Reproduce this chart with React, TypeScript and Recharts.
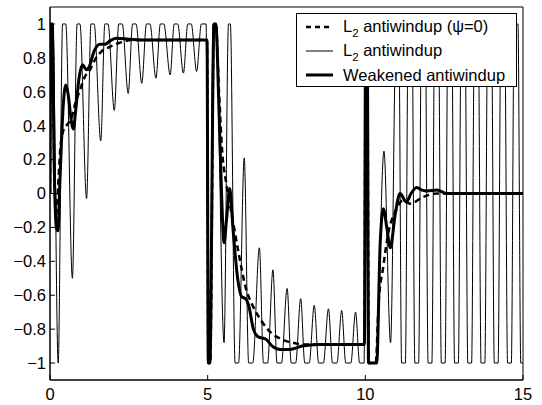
import { LineChart, Line, XAxis, YAxis, Legend, ReferenceArea } from "recharts";

type Pt = [number, number];

const xTicks = [0, 5, 10, 15];
const yTicks = [-1, -0.8, -0.6, -0.4, -0.2, 0, 0.2, 0.4, 0.6, 0.8, 1];

// L2 antiwindup (psi = 0), dashed
const l2Psi0: Pt[] = [
  [0, 0], [0.03, 1], [0.07, 1], [0.13, 0.2], [0.2, -0.12], [0.26, 0.05], [0.32, 0.25],
  [0.42, 0.37], [0.56, 0.41], [0.69, 0.45], [0.8, 0.53], [0.95, 0.61], [1.11, 0.69],
  [1.27, 0.73], [1.43, 0.79], [1.59, 0.83], [1.72, 0.85], [1.9, 0.865], [2.06, 0.88],
  [2.22, 0.89], [2.4, 0.9], [2.65, 0.905], [4.98, 0.905], [5.02, -1], [5.08, -1],
  [5.2, 1], [5.26, 1], [5.36, 0.6], [5.46, 0.25], [5.6, 0.05], [5.78, -0.14],
  [5.97, -0.34], [6.2, -0.55], [6.45, -0.67], [6.7, -0.75], [7.0, -0.82], [7.35, -0.86],
  [7.7, -0.88], [8.1, -0.89], [9.97, -0.89], [10.01, 1], [10.06, 1], [10.11, -1],
  [10.33, -1], [10.42, -0.65], [10.57, -0.43], [10.73, -0.23], [10.94, -0.11],
  [11.2, -0.04], [11.42, -0.06], [11.84, -0.02], [12.27, 0], [15, 0],
];

// L2 antiwindup, thin
const l2Plain: Pt[] = [
  [0, 0], [0.03, 1], [0.09, 1], [0.26, -1], [0.4, 1], [0.5, 1], [0.71, -0.5],
  [0.86, 1], [0.95, 1], [1.16, -0.03], [1.3, 1], [1.4, 1], [1.61, 0.31],
  [1.74, 1], [1.84, 1], [2.04, 0.49], [2.18, 1], [2.29, 1], [2.48, 0.59],
  [2.62, 1], [2.73, 1], [2.91, 0.65], [3.06, 1], [3.17, 1], [3.36, 0.68],
  [3.5, 1], [3.61, 1], [3.81, 0.7], [3.94, 1], [4.05, 1], [4.23, 0.71],
  [4.37, 1], [4.48, 1], [4.65, 0.72], [4.8, 1], [4.95, 1], [5.02, -1], [5.08, -1],
  [5.17, 1], [5.26, 1], [5.52, -0.88], [5.66, 1], [5.72, 1], [5.87, -1], [5.98, -1],
  [6.16, 0.21], [6.3, -1], [6.43, -1], [6.64, -0.32], [6.77, -1], [6.9, -1],
  [7.07, -0.45], [7.2, -1], [7.34, -1], [7.52, -0.56], [7.65, -1], [7.79, -1],
  [7.95, -0.62], [8.08, -1], [8.22, -1], [8.38, -0.66], [8.52, -1], [8.67, -1],
  [8.83, -0.68], [8.96, -1], [9.1, -1], [9.25, -0.69], [9.38, -1], [9.54, -1],
  [9.69, -0.7], [9.82, -1], [9.96, -1], [10.02, 1], [10.07, 1], [10.12, -1],
  [10.34, -1], [10.59, 0.25], [10.8, -0.88], [10.98, 1], [11.06, 1],
  [11.15, -1], [11.27, -1], [11.36, 1], [11.48, 1],
  [11.57, -1], [11.69, -1], [11.78, 1], [11.9, 1],
  [11.99, -1], [12.11, -1], [12.2, 1], [12.32, 1],
  [12.41, -1], [12.53, -1], [12.62, 1], [12.74, 1],
  [12.83, -1], [12.95, -1], [13.04, 1], [13.16, 1],
  [13.25, -1], [13.37, -1], [13.46, 1], [13.58, 1],
  [13.67, -1], [13.79, -1], [13.88, 1], [14.0, 1],
  [14.09, -1], [14.21, -1], [14.3, 1], [14.42, 1],
  [14.51, -1], [14.63, -1], [14.72, 1], [14.84, 1],
  [14.93, -1], [15, -1],
];

// Weakened antiwindup, thick
const weakened: Pt[] = [
  [0, 0], [0.03, 1], [0.07, 1], [0.14, 0.1], [0.2, -0.2], [0.25, -0.22], [0.32, 0.1],
  [0.42, 0.52], [0.5, 0.64], [0.58, 0.58], [0.66, 0.45], [0.74, 0.38], [0.82, 0.5],
  [0.92, 0.68], [1.03, 0.76], [1.15, 0.73], [1.25, 0.75], [1.4, 0.84], [1.59, 0.88],
  [1.75, 0.88], [1.9, 0.9], [2.1, 0.915], [2.5, 0.91], [3.0, 0.905], [4.98, 0.905],
  [5.02, -1], [5.07, -1], [5.2, 1], [5.26, 1], [5.35, 0.55], [5.44, 0], [5.52, -0.29],
  [5.6, -0.15], [5.7, 0.03], [5.8, -0.2], [5.95, -0.5], [6.08, -0.61], [6.2, -0.62],
  [6.3, -0.66], [6.45, -0.8], [6.6, -0.845], [6.85, -0.86], [7.05, -0.9], [7.3, -0.92],
  [7.6, -0.92], [8.0, -0.9], [8.5, -0.89], [9.97, -0.89], [10.01, 1], [10.06, 1],
  [10.1, -1], [10.36, -1], [10.47, -0.3], [10.57, -0.09], [10.68, -0.2], [10.79, -0.32],
  [10.95, -0.12], [11.1, 0], [11.3, -0.05], [11.45, 0], [11.63, 0.035], [11.8, 0.02],
  [11.95, 0.015], [12.27, 0.02], [12.6, 0], [15, 0],
];

const toRows = (pts: Pt[]) => pts.map(([t, v]) => ({ t, v }));

const font = "'Liberation Sans', Arial, Helvetica, sans-serif";
const fs = 16.5;

const fmt = (v: number) => (v < 0 ? "\u2212" + String(Math.abs(v)) : String(v));

const legendRows = [
  { sub: true, text: " antiwindup (\u03c8=0)", width: 2.5, dash: "5 4" },
  { sub: true, text: " antiwindup", width: 1, dash: undefined },
  { sub: false, text: "Weakened antiwindup", width: 3, dash: undefined },
];

function LegendBox() {
  return (
    <div
      style={{
        width: 221,
        height: 74,
        border: "1px solid #000",
        background: "#fff",
        boxSizing: "border-box",
        paddingTop: 1,
        fontFamily: font,
        fontSize: fs,
        color: "#000",
      }}
    >
      {legendRows.map((r, i) => (
        <div key={i} style={{ height: 24, display: "flex", alignItems: "center" }}>
          <svg width={46} height={24} style={{ flex: "none" }}>
            <line x1={9} x2={36} y1={12} y2={12} stroke="#000" strokeWidth={r.width} strokeDasharray={r.dash} />
          </svg>
          <span style={{ whiteSpace: "nowrap", lineHeight: "24px" }}>
            {r.sub ? (
              <>
                L<span style={{ fontSize: 11.5, position: "relative", top: 5 }}>2</span>
              </>
            ) : null}
            {r.text}
          </span>
        </div>
      ))}
    </div>
  );
}

export default function App() {
  const tickStyle = { fill: "#000", fontSize: fs, fontFamily: font };
  return (
    <div style={{ position: "absolute", left: 0, top: 0, width: 542, height: 405, background: "#fff", fontFamily: font }}>
      <LineChart width={542} height={405} margin={{ top: 7, right: 19, left: 0, bottom: 0 }}>
        <XAxis
          xAxisId="b"
          type="number"
          dataKey="t"
          domain={[0, 15]}
          ticks={xTicks}
          interval={0}
          allowDataOverflow
          height={25}
          tickSize={-5}
          tickMargin={13}
          stroke="#000"
          tick={tickStyle}
        />
        <XAxis
          xAxisId="top"
          orientation="top"
          type="number"
          dataKey="t"
          domain={[0, 15]}
          ticks={xTicks}
          interval={0}
          height={0}
          tickSize={-5}
          stroke="#000"
          tick={false}
        />
        <YAxis
          yAxisId="l"
          type="number"
          domain={[-1.1, 1.1]}
          ticks={yTicks}
          interval={0}
          allowDataOverflow
          width={50}
          tickSize={-5}
          tickMargin={9}
          stroke="#000"
          tick={tickStyle}
          tickFormatter={fmt}
        />
        <YAxis
          yAxisId="r"
          orientation="right"
          type="number"
          domain={[-1.1, 1.1]}
          ticks={yTicks}
          interval={0}
          width={0}
          tickSize={-5}
          stroke="#000"
          tick={false}
        />
        <ReferenceArea
          xAxisId="b"
          yAxisId="l"
          x1={0}
          x2={15}
          y1={-1.1}
          y2={1.1}
          fill="none"
          stroke="#000"
          strokeWidth={1}
        />
        <Line
          xAxisId="b"
          yAxisId="l"
          data={toRows(l2Plain)}
          dataKey="v"
          name="L2 antiwindup"
          type="monotone"
          stroke="#000"
          strokeWidth={1}
          dot={false}
          activeDot={false}
          isAnimationActive={false}
        />
        <Line
          xAxisId="b"
          yAxisId="l"
          data={toRows(l2Psi0)}
          dataKey="v"
          name="L2 antiwindup (psi=0)"
          type="monotone"
          stroke="#000"
          strokeWidth={2.5}
          strokeDasharray="6 4"
          dot={false}
          activeDot={false}
          isAnimationActive={false}
        />
        <Line
          xAxisId="b"
          yAxisId="l"
          data={toRows(weakened)}
          dataKey="v"
          name="Weakened antiwindup"
          type="monotone"
          stroke="#000"
          strokeWidth={3}
          dot={false}
          activeDot={false}
          isAnimationActive={false}
        />
        <Legend
          layout="vertical"
          align="center"
          verticalAlign="middle"
          content={() => <LegendBox />}
          wrapperStyle={{ left: 296, top: 13, width: 221, height: 74 }}
        />
      </LineChart>
    </div>
  );
}
